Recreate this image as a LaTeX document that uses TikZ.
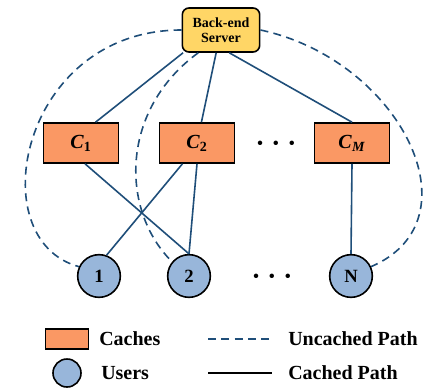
\documentclass[tikz,border=0pt]{standalone}
\usepackage{fontspec}
\setmainfont{Liberation Serif}
\definecolor{cachefill}{RGB}{250,152,100}
\definecolor{userfill}{RGB}{152,182,218}
\definecolor{srvfill}{RGB}{255,214,102}
\definecolor{pathblue}{RGB}{31,78,121}

\begin{document}
\begin{tikzpicture}[x=0.75pt,y=-0.75pt,font=\bfseries]
\tikzstyle{srv}=[draw,line width=1.2pt,fill=srvfill,rounded corners=5pt,align=center,minimum width=58pt,minimum height=33pt,inner sep=0,font=\bfseries\fontsize{10.5}{11}\selectfont]
\tikzstyle{c}=[draw,line width=1.2pt,fill=cachefill,minimum width=56pt,minimum height=30pt,inner sep=0,font=\bfseries\fontsize{15}{16}\selectfont]
\tikzstyle{u}=[circle,draw,line width=1.2pt,fill=userfill,minimum size=32pt,inner sep=0,font=\bfseries\fontsize{14}{15}\selectfont]
\tikzstyle{dots}=[inner sep=0,font=\fontsize{14}{15}\selectfont]
\tikzstyle{txt}=[anchor=west,inner sep=0,font=\bfseries\fontsize{15}{17}\selectfont]
\tikzstyle{cached}=[pathblue,line width=1.2pt]
\tikzstyle{uncached}=[pathblue,line width=1.2pt,dash pattern=on 6pt off 4pt]
\useasboundingbox (0,0) rectangle (427,388);

    \node[srv] (s) at (221,30){Back-end\\Server};
    \node[c] (c1) at (81,143){\textit{C}\textsubscript{1}};
    \node[c] (c2) at (197,143){\textit{C}\textsubscript{2}};
    \node[c] (cm) at (352,143){\textit{C}\textsubscript{\textit{M}}};
    \node[dots] (d1) at (276,145){\textbullet\hspace{7pt}\textbullet\hspace{7pt}\textbullet};

    \node[u] (1) at (99,276){1};
    \node[u] (2) at (189,276){2};
    \node[u] (n) at (351,276){N};
    \node[dots] (d2) at (272,278){\textbullet\hspace{7pt}\textbullet\hspace{7pt}\textbullet};

    \draw[cached] (s.211) -- (c1.55);
    \draw[cached] (s) -- (c2);
    \draw[cached] (s.290) -- (cm.north);
    \draw[cached] (c1.281) -- (2.north);
    \draw[cached] (c2.235) -- (1.70);
    \draw[cached] (c2.south) -- (2.north);
    \draw[cached] (cm.south) -- (n.north);

    \draw[uncached] (s.west) .. controls (20,30) and (-20,240) .. (1.155);
    \draw[uncached] (s.225) .. controls (120,110) and (120,210) .. (2.140);
    \draw[uncached] (s.east) .. controls (400,60) and (480,220) .. (n.25);

    % legend
    \node[c,minimum width=32pt,minimum height=15pt] (lc) at (67,339){};
    \node[txt] (tc) at (99,339){Caches};
    \node[u,minimum size=21pt] (lu) at (67,373){};
    \node[txt] (tu) at (101,373){Users};
    \coordinate (a1) at (208,339);
    \coordinate (a2) at (272,339);
    \coordinate (b1) at (208,373);
    \coordinate (b2) at (272,373);
    \draw[uncached] (a1) -- (a2);
    \draw[line width=1.2pt] (b1) -- (b2);
    \node[txt] (tp1) at (288,339){Uncached Path};
    \node[txt] (tp2) at (288,373){Cached Path};

\end{tikzpicture}
\end{document}
